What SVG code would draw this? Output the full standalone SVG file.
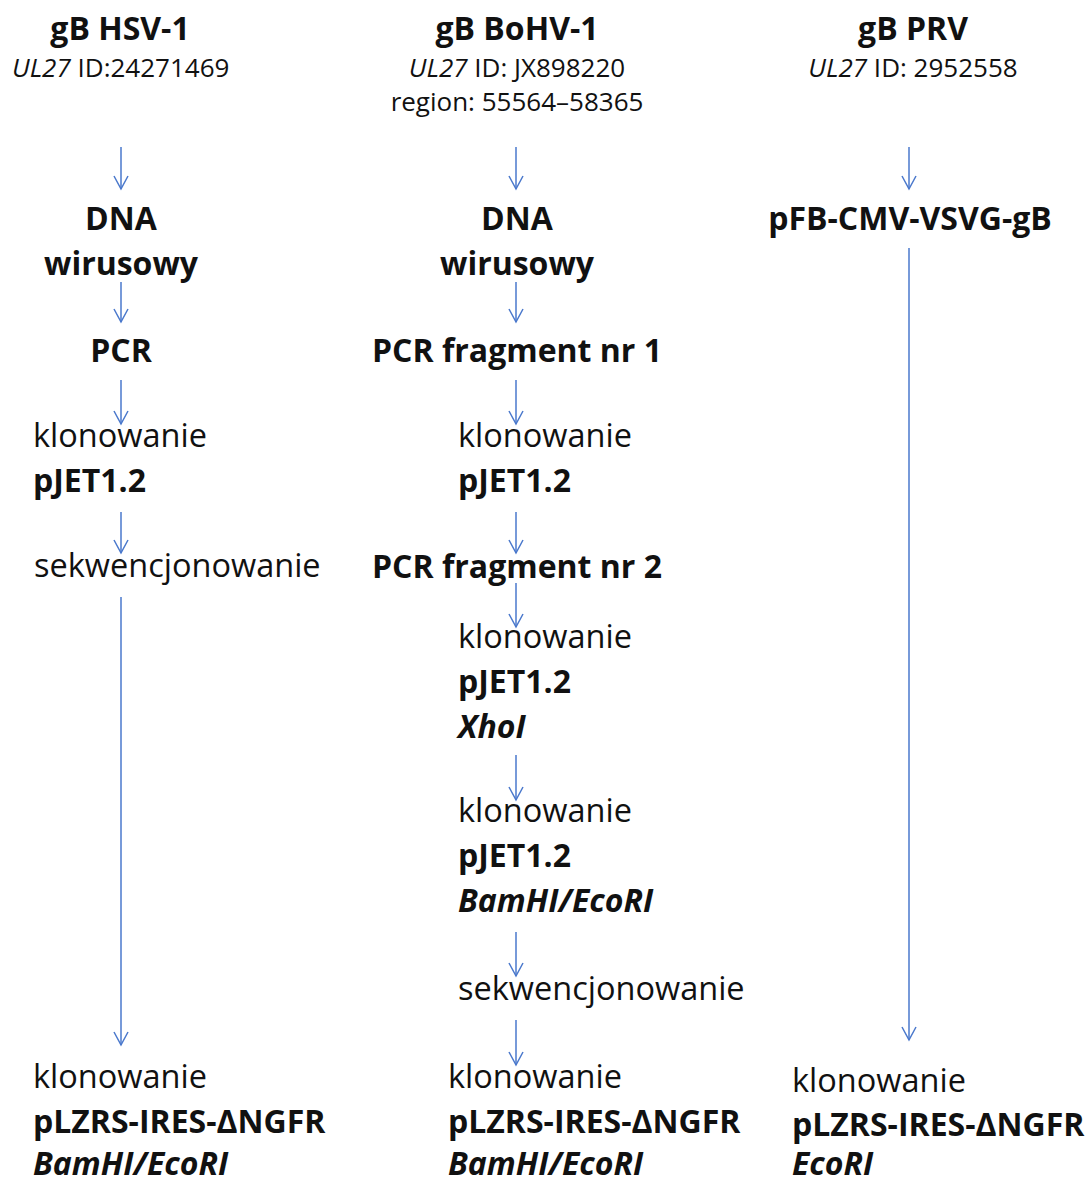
<svg xmlns="http://www.w3.org/2000/svg" width="1088" height="1183" viewBox="0 0 1088 1183">
<style>
text{font-family:"Open Sans","Noto Sans","DejaVu Sans",sans-serif;fill:#111}
.t{font-size:32px;font-weight:bold;text-anchor:middle}
.s{font-size:26px}
.m{text-anchor:middle}
.r{font-size:32.5px}
.b{font-size:32px;font-weight:bold}
.bi{font-size:32px;font-weight:bold;font-style:italic}
.i{font-style:italic}
.c line{stroke:#4a78cc;stroke-width:1.5;marker-end:url(#ah)}
</style>
<defs>
<marker id="ah" markerUnits="userSpaceOnUse" markerWidth="30" markerHeight="30" refX="0" refY="0" orient="auto" overflow="visible">
<path d="M-13,-7 L0,0 L-13,7" fill="none" stroke="#4a78cc" stroke-width="1.5"/>
</marker>
</defs>
<g id="connectors" class="c">
<line x1="121" y1="147" x2="121" y2="189"/>
<line x1="121" y1="282" x2="121" y2="322"/>
<line x1="121" y1="380" x2="121" y2="424"/>
<line x1="121" y1="512" x2="121" y2="553"/>
<line x1="121" y1="597" x2="121" y2="1045"/>
<line x1="516" y1="147" x2="516" y2="189"/>
<line x1="516" y1="282" x2="516" y2="322"/>
<line x1="516" y1="380" x2="516" y2="424"/>
<line x1="516" y1="512" x2="516" y2="553"/>
<line x1="516" y1="583" x2="516" y2="627"/>
<line x1="516" y1="755" x2="516" y2="800"/>
<line x1="516" y1="932" x2="516" y2="976"/>
<line x1="516" y1="1020" x2="516" y2="1065"/>
<line x1="909" y1="147" x2="909" y2="189"/>
<line x1="909" y1="248" x2="909" y2="1040"/>
</g>
<g id="hsv-title"><text class="t" x="120" y="40">gB HSV-1</text><text class="s" x="12" y="77"><tspan class="i">UL27</tspan> ID:24271469</text></g>
<g id="bohv-title"><text class="t" x="517" y="40">gB BoHV-1</text><text class="s m" x="517" y="77"><tspan class="i">UL27</tspan> ID: JX898220</text><text class="s m" x="517" y="111">region: 55564–58365</text></g>
<g id="prv-title"><text class="t" x="913" y="40">gB PRV</text><text class="s m" x="913" y="77"><tspan class="i">UL27</tspan> ID: 2952558</text></g>
<g id="hsv-dna"><text class="b m" x="121" y="230">DNA</text><text class="b m" x="121" y="275">wirusowy</text></g>
<g id="hsv-pcr"><text class="b m" x="121" y="362">PCR</text></g>
<g id="hsv-clone1"><text class="r" x="33" y="447">klonowanie</text><text class="b" x="33" y="492">pJET1.2</text></g>
<g id="hsv-seq"><text class="r" x="34" y="577">sekwencjonowanie</text></g>
<g id="hsv-final"><text class="r" x="33" y="1088">klonowanie</text><text class="b" x="33" y="1133">pLZRS-IRES-ΔNGFR</text><text class="bi" x="33" y="1175">BamHI/EcoRI</text></g>
<g id="bohv-dna"><text class="b m" x="517" y="230">DNA</text><text class="b m" x="517" y="275">wirusowy</text></g>
<g id="bohv-pcr1"><text class="b m" x="517" y="362">PCR fragment nr 1</text></g>
<g id="bohv-clone1"><text class="r" x="458" y="447">klonowanie</text><text class="b" x="458" y="492">pJET1.2</text></g>
<g id="bohv-pcr2"><text class="b m" x="517" y="578">PCR fragment nr 2</text></g>
<g id="bohv-clone2"><text class="r" x="458" y="648">klonowanie</text><text class="b" x="458" y="693">pJET1.2</text><text class="bi" x="458" y="738">XhoI</text></g>
<g id="bohv-clone3"><text class="r" x="458" y="822">klonowanie</text><text class="b" x="458" y="867">pJET1.2</text><text class="bi" x="458" y="912">BamHI/EcoRI</text></g>
<g id="bohv-seq"><text class="r" x="458" y="1000">sekwencjonowanie</text></g>
<g id="bohv-final"><text class="r" x="448" y="1088">klonowanie</text><text class="b" x="448" y="1133">pLZRS-IRES-ΔNGFR</text><text class="bi" x="448" y="1175">BamHI/EcoRI</text></g>
<g id="prv-plasmid"><text class="b m" x="910" y="230">pFB-CMV-VSVG-gB</text></g>
<g id="prv-final"><text class="r" x="792" y="1092">klonowanie</text><text class="b" x="792" y="1136">pLZRS-IRES-ΔNGFR</text><text class="bi" x="792" y="1175">EcoRI</text></g>
</svg>
